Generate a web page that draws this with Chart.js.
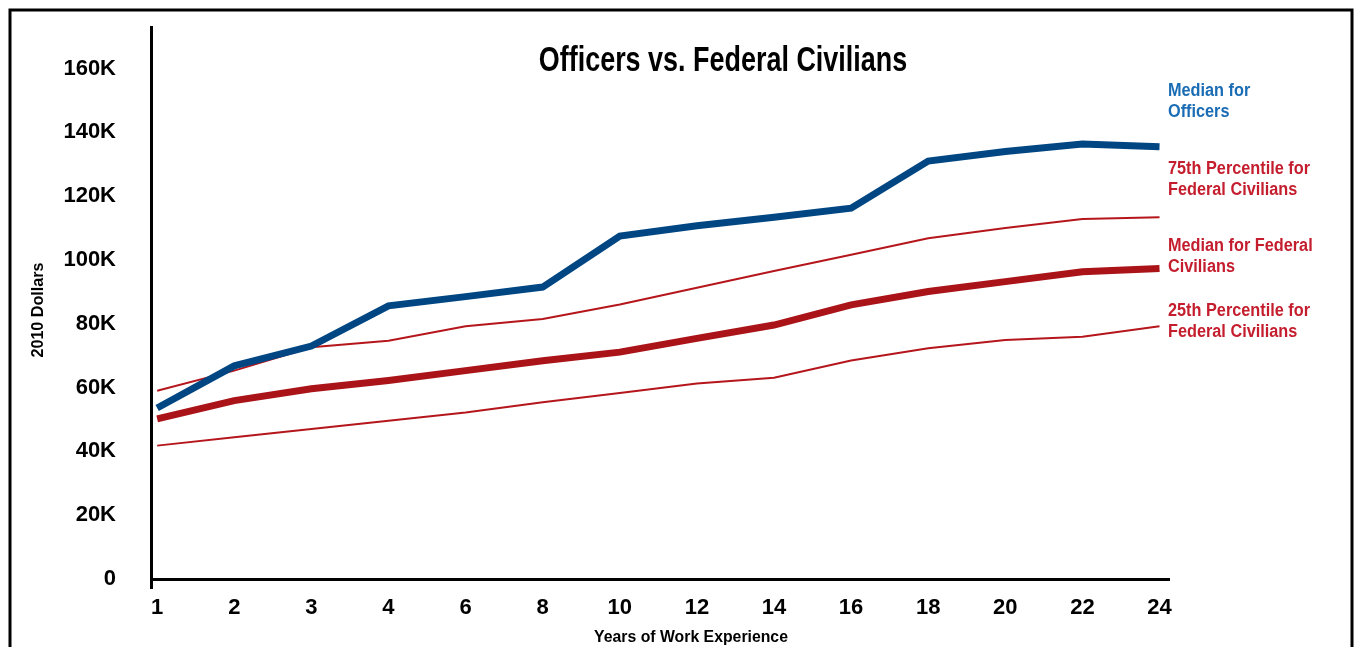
<!DOCTYPE html>
<html>
<head>
<meta charset="utf-8">
<script src="https://cdn.jsdelivr.net/npm/chart.js@4.4.1/dist/chart.umd.min.js"></script>
<style>
  body { margin: 0; background: #fff; }
  #wrap { position: relative; width: 1354px; height: 647px; }
</style>
</head>
<body>
<div id="wrap"><canvas id="salaryChart"></canvas></div>
<script>
const categories = ["1", "2", "3", "4", "6", "8", "10", "12", "14", "16", "18", "20", "22", "24"];
const officersMedian = [53600, 66800, 73000, 85600, 88500, 91500, 107500, 110700, 113400, 116200, 131000, 134000, 136300, 135500];
const civilians75th = [59000, 65300, 72600, 74700, 79200, 81500, 86000, 91300, 96500, 101600, 106800, 110000, 112800, 113400];
const civiliansMedian = [50200, 55900, 59600, 62200, 65300, 68400, 71100, 75400, 79600, 85900, 90100, 93200, 96300, 97300];
const civilians25th = [41800, 44400, 47000, 49600, 52200, 55400, 58300, 61300, 63100, 68500, 72300, 74900, 75900, 79200];
const yTicks = [0, 20000, 40000, 60000, 80000, 100000, 120000, 140000, 160000];

const seriesLabels = [
    { lines: ["Median for", "Officers"], color: "#1a6db5", y: 91 },
    { lines: ["75th Percentile for", "Federal Civilians"], color: "#c41e2e", y: 169 },
    { lines: ["Median for Federal", "Civilians"], color: "#c41e2e", y: 246 },
    { lines: ["25th Percentile for", "Federal Civilians"], color: "#c41e2e", y: 311 }
];

const FONT = '"Liberation Sans", Arial, sans-serif';
const X_MIN = -0.08;
const X_MAX = 13.11;

function toPoints(values) {
    return values.map((v, i) => ({ x: i, y: v }));
}

// condensed look: squeeze the text horizontally
function drawText(ctx, text, x, y, size, squeeze, align, rotate) {
    ctx.save();
    ctx.translate(x, y);
    if (rotate) ctx.rotate(rotate);
    ctx.scale(squeeze, 1);
    ctx.font = "bold " + size + "px " + FONT;
    ctx.textAlign = align;
    ctx.textBaseline = "middle";
    ctx.fillText(text, 0, 0);
    ctx.restore();
}

// titles, right-hand labels and the outer frame
const textPlugin = {
    id: "textPlugin",
    afterDraw(chart) {
        const ctx = chart.ctx;
        ctx.save();

        ctx.lineWidth = 3;
        ctx.strokeStyle = "#000";
        ctx.strokeRect(10, 10, 1342, 700);

        ctx.fillStyle = "#000";
        drawText(ctx, "Officers vs. Federal Civilians", 723, 61, 35, 0.77, "center");
        drawText(ctx, "Years of Work Experience", 691, 637, 17, 0.93, "center");
        drawText(ctx, "2010 Dollars", 38, 310, 17, 0.95, "center", -Math.PI / 2);

        const x = chart.chartArea.right;
        seriesLabels.forEach(lbl => {
            ctx.fillStyle = lbl.color;
            lbl.lines.forEach((line, i) => {
                drawText(ctx, line, x, lbl.y + i * 21, 17.5, 0.93, "left");
            });
        });
        ctx.restore();
    }
};

const ctx = document.getElementById("salaryChart").getContext("2d");
new Chart(ctx, {
    type: "line",
    data: {
        datasets: [
            {
                label: "Median for Officers",
                data: toPoints(officersMedian),
                borderColor: "#004682",
                borderWidth: 7
            },
            {
                label: "75th Percentile for Federal Civilians",
                data: toPoints(civilians75th),
                borderColor: "#b5161c",
                borderWidth: 2
            },
            {
                label: "Median for Federal Civilians",
                data: toPoints(civiliansMedian),
                borderColor: "#aa1419",
                borderWidth: 7
            },
            {
                label: "25th Percentile for Federal Civilians",
                data: toPoints(civilians25th),
                borderColor: "#b5161c",
                borderWidth: 2
            }
        ]
    },
    options: {
        responsive: true,
        maintainAspectRatio: false,
        animation: false,
        elements: {
            point: { radius: 0, hoverRadius: 0 },
            line: { tension: 0, fill: false }
        },
        layout: { padding: { top: 27, right: 186, bottom: 0, left: 0 } },
        plugins: {
            legend: { display: false },
            tooltip: { enabled: false },
            title: { display: false }
        },
        scales: {
            x: {
                type: "linear",
                min: X_MIN,
                max: X_MAX,
                afterBuildTicks: scale => {
                    scale.ticks = [{ value: X_MIN }].concat(categories.map((c, i) => ({ value: i })));
                },
                afterFit: scale => { scale.height = 68; },
                border: { display: true, color: "#000", width: 3 },
                grid: {
                    display: true,
                    drawOnChartArea: false,
                    drawTicks: true,
                    tickLength: 10,
                    lineWidth: 3,
                    color: c => (c.index === 0 ? "#000" : "rgba(0,0,0,0)")
                },
                ticks: {
                    autoSkip: false,
                    maxRotation: 0,
                    padding: 6,
                    color: "#000",
                    font: { family: FONT, weight: "bold", size: 22 },
                    callback: value => (categories[value] !== undefined ? categories[value] : "")
                }
            },
            y: {
                min: 0,
                max: 173000,
                afterBuildTicks: scale => {
                    scale.ticks = yTicks.map(v => ({ value: v }));
                },
                afterFit: scale => { scale.width = 151; },
                border: { display: true, color: "#000", width: 3 },
                grid: {
                    display: true,
                    drawOnChartArea: false,
                    drawTicks: true,
                    tickLength: 30,
                    color: "rgba(0,0,0,0)"
                },
                ticks: {
                    padding: 5,
                    color: "#000",
                    font: { family: FONT, weight: "bold", size: 22 },
                    callback: value => (value === 0 ? "0" : value / 1000 + "K")
                }
            }
        }
    },
    plugins: [textPlugin]
});
</script>
</body>
</html>
